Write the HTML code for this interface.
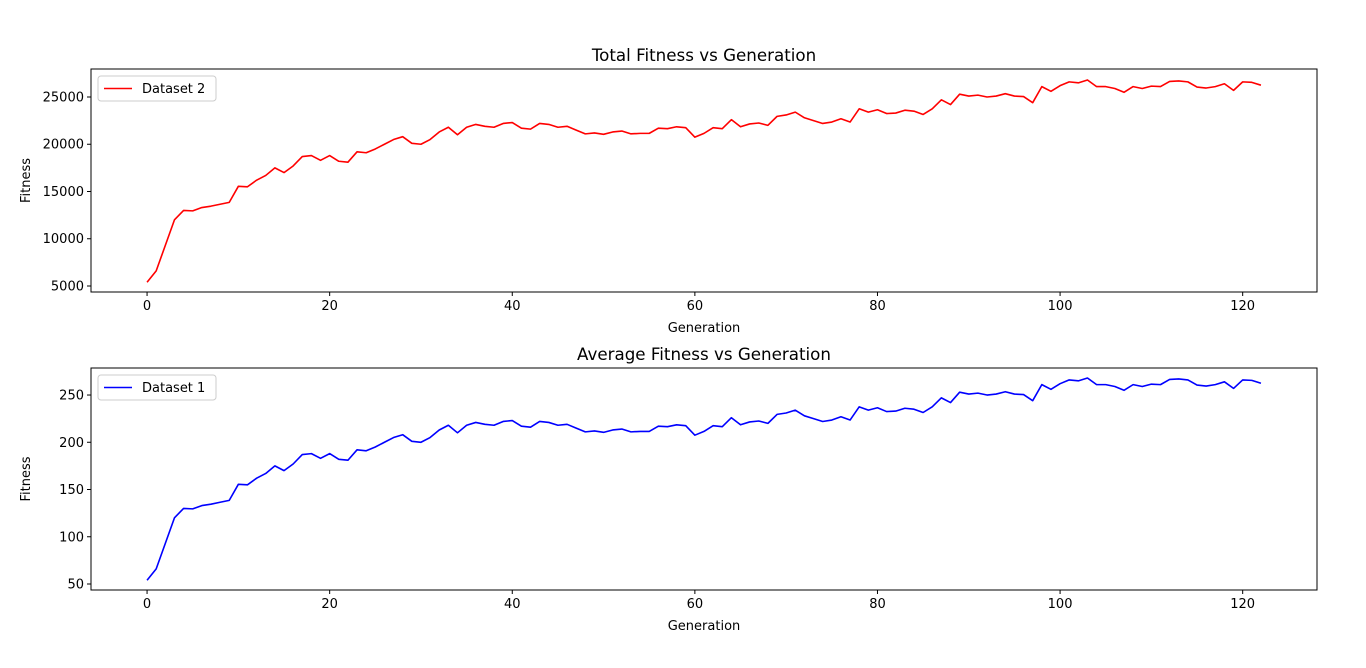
<!DOCTYPE html>
<html><head><meta charset="utf-8"><style>
body{margin:0;background:#fff;font-family:"Liberation Sans","DejaVu Sans",sans-serif}
svg text{font-family:"DejaVu Sans","Liberation Sans",sans-serif}
</style></head><body>
<svg id="c" width="1366" height="663" xmlns="http://www.w3.org/2000/svg"></svg>
<script>
const generations = Array.from({length:123},(_, i)=>i);
const totalFitness = [5400,6600,9300,12000,13000,12950,13300,13450,13650,13850,15550,15500,16200,16700,17500,17000,17700,18700,18800,18300,18800,18200,18100,19200,19100,19500,20000,20500,20800,20100,20000,20500,21300,21800,21000,21800,22100,21900,21800,22200,22300,21700,21600,22200,22100,21800,21900,21500,21100,21200,21050,21300,21400,21100,21150,21150,21700,21650,21850,21750,20750,21150,21750,21650,22600,21850,22150,22250,22000,22950,23100,23400,22800,22500,22200,22350,22700,22350,23750,23400,23650,23250,23300,23600,23500,23150,23750,24700,24200,25300,25100,25200,25000,25100,25350,25100,25050,24400,26100,25600,26200,26600,26500,26800,26100,26100,25900,25500,26100,25900,26150,26100,26650,26700,26600,26050,25950,26100,26400,25700,26600,26550,26250];
const avgFitness = [54,66,93,120,130,129.5,133,134.5,136.5,138.5,155.5,155,162,167,175,170,177,187,188,183,188,182,181,192,191,195,200,205,208,201,200,205,213,218,210,218,221,219,218,222,223,217,216,222,221,218,219,215,211,212,210.5,213,214,211,211.5,211.5,217,216.5,218.5,217.5,207.5,211.5,217.5,216.5,226,218.5,221.5,222.5,220,229.5,231,234,228,225,222,223.5,227,223.5,237.5,234,236.5,232.5,233,236,235,231.5,237.5,247,242,253,251,252,250,251,253.5,251,250.5,244,261,256,262,266,265,268,261,261,259,255,261,259,261.5,261,266.5,267,266,260.5,259.5,261,264,257,266,265.5,262.5];
const xTicks = [0,20,40,60,80,100,120];
const yTicksTop = [5000,10000,15000,20000,25000];
const yTicksBot = [50,100,150,200,250];

const NS="http://www.w3.org/2000/svg";
const svg=document.getElementById('c');
function mk(tag,attrs,parent){const e=document.createElementNS(NS,tag);for(const k in attrs)e.setAttribute(k,attrs[k]);(parent||svg).appendChild(e);return e;}

function panel(cfg){
  const {L,R,T,B,ymin,ymax,xs,ys,yTicks,color,title,label,key}=cfg;
  const xmin=-6.14,xmax=128.14;
  const sx=v=>L+(v-xmin)/(xmax-xmin)*(R-L);
  const sy=v=>B-(v-ymin)/(ymax-ymin)*(B-T);
  const g=mk('g',{});
  
  
  let pts=xs.map((x,i)=>sx(x).toFixed(2)+','+sy(ys[i]).toFixed(2)).join(' ');
  const line=mk('polyline',{points:pts,fill:'none',stroke:color,'stroke-width':1.6,'stroke-linejoin':'round'},g);
  
  
  const frame=mk('rect',{x:L,y:T,width:R-L,height:B-T,fill:'none',stroke:'#000','stroke-width':1},g);
  
  
  xTicks.forEach(t=>{
    const x=sx(t);
    mk('line',{x1:x,x2:x,y1:B,y2:B+4,stroke:'#000'},g);
    const tx=mk('text',{x:x,y:B+18,'text-anchor':'middle','font-size':13},g);tx.textContent=t;
    
    
  });
  yTicks.forEach(t=>{
    const y=sy(t);
    mk('line',{x1:L-4,x2:L,y1:y,y2:y,stroke:'#000'},g);
    const tx=mk('text',{x:L-7,y:y+4.5,'text-anchor':'end','font-size':13},g);tx.textContent=t;
    
    
  });
  const ti=mk('text',{x:(L+R)/2,y:T-8,'text-anchor':'middle','font-size':16.7},g);ti.textContent=title;
  
  
  const xl=mk('text',{x:(L+R)/2,y:B+40,'text-anchor':'middle','font-size':13},g);xl.textContent='Generation';
  
  
  const yl=mk('text',{x:0,y:0,'text-anchor':'middle','font-size':13,transform:`translate(30,${(T+B)/2}) rotate(-90)`},g);yl.textContent='Fitness';
  
  
  const lg=mk('g',{},g);
  
  
  mk('rect',{x:L+7,y:T+7,width:118,height:25,rx:3,fill:'#fff',stroke:'#ccc'},lg);
  mk('line',{x1:L+13,x2:L+41,y1:T+19.5,y2:T+19.5,stroke:color,'stroke-width':1.6},lg);
  const lt=mk('text',{x:L+51,y:T+24,'font-size':13},lg);lt.textContent=label;
}
panel({L:91,R:1317,T:69,B:292,ymin:4365,ymax:27963,xs:generations,ys:totalFitness,yTicks:yTicksTop,color:'#ff0000',title:'Total Fitness vs Generation',label:'Dataset 2',key:'total-fitness'});
panel({L:91,R:1317,T:368,B:590,ymin:43.65,ymax:278.6,xs:generations,ys:avgFitness,yTicks:yTicksBot,color:'#0000ff',title:'Average Fitness vs Generation',label:'Dataset 1',key:'average-fitness'});
</script>
</body></html>
